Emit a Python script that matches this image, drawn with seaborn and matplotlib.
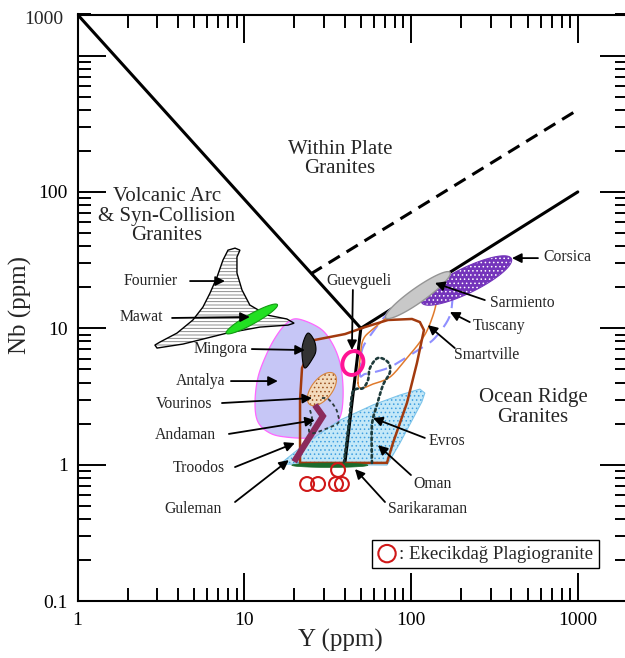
import numpy as np
import matplotlib
matplotlib.use("Agg")
import matplotlib.pyplot as plt
from matplotlib.ticker import LogLocator, NullFormatter
import seaborn as sns

# ---- tectonic discrimination boundaries (Y vs Nb, ppm) ----
vag_wpg_y = [1, 50]
vag_wpg_nb = [2000, 10]
org_y = [40, 50, 1000]
org_nb = [1, 10, 100]
wpg_org_y = [25, 1000]
wpg_org_nb = [25, 400]

# ---- plagiogranite / ophiolite granite fields ----
fournier_y = [8.80, 9.42, 9.04, 9.04, 9.69, 10.8, 13.7, 18.0, 19.9, 18.3, 12.4, 7.88,
              4.29, 3.00, 2.91, 3.12, 3.95, 4.92, 5.65, 6.23, 6.86, 7.45, 7.99]
fournier_nb = [38.7, 37.4, 33.3, 25.4, 19.1, 14.8, 12.5, 11.7, 10.9, 10.55, 10.2, 9.22,
               7.66, 7.16, 7.53, 7.92, 9.22, 11.5, 14.3, 18.1, 23.7, 31.6, 37.4]

antalya_y = [21.0, 28.4, 33.6, 37.5, 39.1, 38.5, 35.9, 31.3, 24.8, 18.0, 14.3, 12.1,
             11.6, 12.1, 13.7, 15.7, 18.0]
antalya_nb = [11.7, 10.0, 7.79, 5.56, 3.71, 2.51, 2.02, 1.70, 1.57, 1.59, 1.70, 2.05,
              2.83, 4.39, 6.58, 8.92, 10.9]

mingora_y = [24.1, 26.2, 26.9, 25.8, 23.1, 22.2, 22.5]
mingora_nb = [9.22, 8.19, 6.92, 6.05, 5.11, 6.36, 7.79]

troodos_y = [21.6, 21.6, 22.2, 26.2, 40.2, 52.9, 72.7, 101.3, 113, 119.5, 108.5, 94.5, 77.9, 71.7]
troodos_nb = [1.03, 2.98, 5.11, 8.19, 9.07, 10.2, 11.5, 11.7, 11.1, 9.70, 5.56, 2.83, 1.44, 1.03]

oman_y = [16.4, 23.8, 37.5, 59.1, 85.8, 102.7, 113, 121, 116, 85.8, 71.7]
oman_nb = [1.01, 1.46, 2.12, 2.74, 3.24, 3.46, 3.58, 3.35, 2.88, 1.44, 0.993]

guleman_y = [26.5, 29.6, 19.9]
guleman_nb = [2.74, 2.27, 1.05]

andaman_y = [24.8, 25.5, 24.4, 25.8, 30.5, 36.5, 36.5, 35.0, 31.8, 29.2]
andaman_nb = [2.51, 2.12, 1.79, 1.70, 1.82, 2.02, 2.31, 2.64, 3.03, 3.08]

evros_y = [39.6, 41.9, 44.2, 46.7, 51.5, 55.2, 56.7, 63.3, 72.7, 74.8, 67.9, 62.5, 58.3, 58.3]
evros_nb = [1.03, 1.79, 3.24, 3.58, 3.64, 4.17, 5.11, 6.05, 5.65, 4.78, 3.83, 2.74, 1.95, 1.03]

smartville_y = [48.1, 49.4, 51.5, 59.1, 83.5, 116, 135, 143, 139, 126, 113, 94.5, 74.8, 59.1, 50.8]
smartville_nb = [3.96, 5.85, 8.19, 9.87, 13.8, 17.5, 19.4, 17.8, 13.8, 9.87, 7.92, 6.05, 4.39, 3.90, 3.64]

tuscany_y = [49.4, 50.8, 58.3, 67.9, 80.1, 113, 149, 164, 176, 176, 166.5, 139, 118, 94.5,
             74.8, 60.8, 52.9]
tuscany_nb = [4.54, 6.92, 9.22, 11.7, 14.8, 19.1, 23.7, 25.4, 20.7, 14.8, 11.5, 8.48, 7.28,
              6.15, 5.19, 4.78, 4.62]

# elliptical fields: centre Y, centre Nb, semi-axes (log decades), tilt (deg)
mawat_ell = (11.1, 11.7, 0.186, 0.035, 34.7)
vourinos_ell = (29.2, 3.58, 0.135, 0.065, 60.6)
sarmiento_ell = (110, 17.5, 0.255, 0.05, 41.3)
corsica_ell = (215, 22.4, 0.314, 0.088, 31.7)
sarikaraman_ell = (32.6, 0.99, 0.228, 0.016, 0)
guevgueli_ell = (44.8, 5.56, 0.088, 0.062, 80)

# Ekecikdag plagiogranite samples
ek_y = [23.8, 27.7, 35.5, 38.5, 36.5]
ek_nb = [0.721, 0.721, 0.721, 0.721, 0.913]


def smooth(xs, ys, closed=True, n=10):
    """Catmull-Rom spline through outline vertices, in log space."""
    P = np.column_stack([np.log10(xs), np.log10(ys)])
    if closed:
        ext = np.vstack([P[-1], P, P[0], P[1]])
    else:
        ext = np.vstack([P[0], P, P[-1]])
    t = np.linspace(0, 1, n, endpoint=False)[:, None]
    segs = []
    for i in range(1, len(ext) - 2):
        p0, p1, p2, p3 = ext[i - 1], ext[i], ext[i + 1], ext[i + 2]
        segs.append(0.5 * (2 * p1 + (p2 - p0) * t + (2 * p0 - 5 * p1 + 4 * p2 - p3) * t ** 2
                           + (3 * p1 - p0 - 3 * p2 + p3) * t ** 3))
    segs.append(ext[-2][None, :])
    out = np.vstack(segs)
    return 10 ** out[:, 0], 10 ** out[:, 1]


def log_ellipse(cx, cy, a, b, angle, n=120):
    t = np.linspace(0, 2 * np.pi, n)
    th = np.deg2rad(angle)
    lx = np.log10(cx) + a * np.cos(t) * np.cos(th) - b * np.sin(t) * np.sin(th)
    ly = np.log10(cy) + a * np.cos(t) * np.sin(th) + b * np.sin(t) * np.cos(th)
    return 10 ** lx, 10 ** ly


sns.set_theme(style="ticks")
plt.rcParams["font.family"] = ["Liberation Serif", "DejaVu Serif"]
plt.rcParams["hatch.linewidth"] = 0.6
plt.rcParams["axes.linewidth"] = 1.5
plt.rcParams["axes.edgecolor"] = "black"
plt.rcParams["xtick.color"] = "black"
plt.rcParams["ytick.color"] = "black"

fig = plt.figure(figsize=(6.25, 6.58), dpi=100)
ax = fig.add_axes([77.5 / 625, 57 / 658, 550.5 / 625, 586.5 / 658])
ax.set_xscale("log")
ax.set_yscale("log")

# ---- fields ----
ax.fill(fournier_y, fournier_nb, facecolor="white", edgecolor="#7a7a7a", lw=0, hatch="-----", zorder=1)
ax.fill(fournier_y, fournier_nb, facecolor="none", edgecolor="black", lw=1.0, zorder=1.1)

x, y = smooth(antalya_y, antalya_nb)
ax.fill(x, y, facecolor="#c6c6f6", edgecolor="#ff66ff", lw=0.9, zorder=1)

ax.fill(oman_y, oman_nb, facecolor="#c4e8f8", edgecolor="#3f9fe0", lw=0, hatch="....", zorder=1)
ax.fill(oman_y, oman_nb, facecolor="none", edgecolor="#7cc4ea", lw=0.8, zorder=1.1)

x, y = log_ellipse(*vourinos_ell)
ax.fill(x, y, facecolor="#f3dbbd", edgecolor="#9a5020", lw=0, hatch="....", zorder=2)
ax.fill(x, y, facecolor="none", edgecolor="#d8843c", lw=0.8, zorder=2.1)

# ---- boundaries ----
sns.lineplot(x=vag_wpg_y, y=vag_wpg_nb, sort=False, estimator=None, color="black", lw=2.2, ax=ax, zorder=2.5)
sns.lineplot(x=org_y, y=org_nb, sort=False, estimator=None, color="black", lw=2.2, ax=ax, zorder=2.5)
sns.lineplot(x=wpg_org_y, y=wpg_org_nb, sort=False, estimator=None, color="black", lw=2.2,
             linestyle=(0, (4.3, 2.6)), ax=ax, zorder=2.5)

x, y = smooth(tuscany_y, tuscany_nb)
ax.plot(x, y, color="#8f8fff", lw=1.5, linestyle=(0, (6, 4)), zorder=3)
x, y = smooth(smartville_y, smartville_nb)
ax.plot(x, y, color="#e07a2c", lw=1.1, zorder=3)
ax.fill(troodos_y, troodos_nb, facecolor="none", edgecolor="#a23a0e", lw=1.8, zorder=3)

x, y = smooth(mingora_y, mingora_nb)
ax.fill(x, y, facecolor="#333333", edgecolor="black", lw=0.8, zorder=4)

x, y = log_ellipse(*mawat_ell)
ax.fill(x, y, facecolor="#22e022", edgecolor="#139a13", lw=0.8, zorder=4)

ax.plot(guleman_y, guleman_nb, color="#8b2a5c", lw=4.5, solid_capstyle="butt",
        solid_joinstyle="miter", zorder=4)
x, y = smooth(andaman_y, andaman_nb, closed=False)
ax.plot(x, y, color="#2a3a3a", lw=1.3, linestyle=(0, (2, 1.6)), zorder=4)
x, y = smooth(evros_y, evros_nb, closed=False)
ax.plot(x, y, color="#1e3b3b", lw=1.9, linestyle=(0, (1, 1.2)), dash_capstyle="round", zorder=4)

x, y = log_ellipse(*corsica_ell)
ax.fill(x, y, facecolor="#7434bb", edgecolor="white", lw=0, hatch="....", zorder=4.4)
ax.fill(x, y, facecolor="none", edgecolor="#7434bb", lw=0.8, zorder=4.41)
x, y = log_ellipse(*sarmiento_ell)
ax.fill(x, y, facecolor="#c8c8c8", edgecolor="#959595", lw=1.0, zorder=4.5)

x, y = log_ellipse(*sarikaraman_ell)
ax.fill(x, y, facecolor="#1b6b2c", edgecolor="#1b6b2c", lw=0.5, zorder=5)
x, y = log_ellipse(*guevgueli_ell)
ax.plot(x, y, color="#ff1493", lw=2.8, zorder=5)

sns.scatterplot(x=ek_y, y=ek_nb, ax=ax, marker="o", s=100, facecolor="none",
                edgecolor="#d01818", linewidth=1.5, label=": Ekecikda\u011f Plagiogranite", zorder=6)

# ---- field labels with arrows ----
arrow_kw = dict(arrowstyle="-|>", color="black", lw=1.3, mutation_scale=14, shrinkA=0, shrinkB=0)
notes = [
    ("Fournier", (4.00, 22.2), "right", (4.73, 22.2), (7.66, 22.2)),
    ("Mawat", (3.25, 12.1), "right", (3.69, 11.9), (10.8, 12.1)),
    ("Mingora", (10.4, 7.04), "right", (11.1, 7.04), (23.1, 6.92)),
    ("Antalya", (7.66, 4.10), "right", (8.32, 4.10), (15.9, 4.10)),
    ("Vourinos", (6.40, 2.78), "right", (7.35, 2.83), (25.5, 3.08)),
    ("Andaman", (6.77, 1.65), "right", (8.09, 1.68), (26.5, 2.12)),
    ("Troodos", (7.66, 0.944), "right", (8.80, 0.960), (20.1, 1.44)),
    ("Guleman", (7.35, 0.473), "right", (8.80, 0.532), (18.5, 1.08)),
    ("Guevgueli", (48.7, 22.2), "center", (44.8, 19.1), (44.2, 6.92)),
    ("Corsica", (618, 33.3), "left", (577, 32.7), (403, 32.7)),
    ("Sarmiento", (297, 15.3), "left", (277, 16.1), (139, 21.5)),
    ("Tuscany", (235, 10.4), "left", (225, 11.1), (171, 13.15)),
    ("Smartville", (181, 6.36), "left", (183, 7.16), (126, 10.55)),
    ("Evros", (128, 1.49), "left", (121, 1.57), (59.1, 2.20)),
    ("Oman", (103, 0.721), "left", (99.9, 0.839), (63.3, 1.39)),
    ("Sarikaraman", (72.7, 0.473), "left", (69.8, 0.532), (46.1, 0.928)),
]
for name, pos, ha, tail, tip in notes:
    ax.text(pos[0], pos[1], name, ha=ha, va="center", fontsize=11.3, zorder=7)
    ax.annotate("", xy=tip, xytext=tail, arrowprops=arrow_kw, zorder=7)

ax.text(3.44, 66.5, "Volcanic Arc\n& Syn-Collision\nGranites", ha="center", va="center",
        fontsize=15, linespacing=1.05)
ax.text(37.5, 174, "Within Plate\nGranites", ha="center", va="center", fontsize=15, linespacing=1.05)
ax.text(538, 2.62, "Ocean Ridge\nGranites", ha="center", va="center", fontsize=15, linespacing=1.05)

# ---- axes ----
ax.set_xlim(1, 2000)
ax.set_ylim(0.1, 2000)
ax.set_xticks([1, 10, 100, 1000], ["1", "10", "100", "1000"])
ax.set_yticks([0.1, 1, 10, 100, 1000], ["0.1", "1", "10", "100", ""])
for axis in (ax.xaxis, ax.yaxis):
    axis.set_minor_locator(LogLocator(base=10, subs=np.arange(2, 10), numticks=50))
    axis.set_minor_formatter(NullFormatter())
ax.tick_params(which="both", direction="in", top=True, right=True, width=1.4, labelsize=14)
ax.tick_params(which="major", length=20)
ax.tick_params(which="minor", length=9.5)
ax.tick_params(axis="x", which="major", pad=8)
ax.tick_params(axis="y", which="major", pad=7)
ax.text(-0.026, 0.992, "1000", transform=ax.transAxes, ha="right", va="center", fontsize=14)

ax.set_xlabel("Y (ppm)", fontsize=18)
ax.xaxis.set_label_coords(0.477, -0.048)
ax.set_ylabel("Nb (ppm)", fontsize=18)
ax.yaxis.set_label_coords(-0.083, 0.505)

leg = ax.legend(loc="lower left", bbox_to_anchor=(0.535, 0.056), borderaxespad=0, frameon=True,
                fancybox=False, edgecolor="black", framealpha=1, fontsize=13.5, borderpad=0.3,
                handletextpad=0.15, handlelength=1.0, markerscale=1.25)
leg.get_frame().set_linewidth(1.0)

fig.savefig("out.png", dpi=100)
